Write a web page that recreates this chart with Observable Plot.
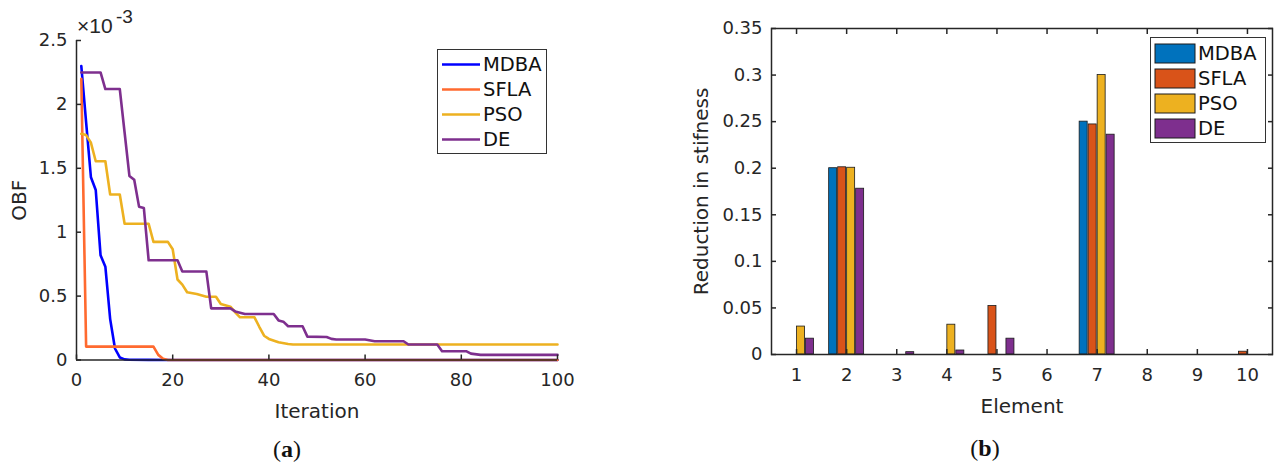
<!DOCTYPE html>
<html>
<head>
<meta charset="utf-8">
<script src="https://cdn.jsdelivr.net/npm/d3@7"></script>
<script src="https://cdn.jsdelivr.net/npm/@observablehq/plot@0.6"></script>
<style>
  body { margin: 0; background: #fff; }
  #root { position: relative; width: 1276px; height: 466px; overflow: hidden; background: #fff;
          font-family: "DejaVu Sans", sans-serif; color: #262626; }
  #root svg { position: absolute; top: 0; max-width: none; }
  .abs { position: absolute; white-space: nowrap; }
  .legend { position: absolute; background: #fff; border: 1.5px solid #333; box-sizing: border-box; }
  .legend .row { position: absolute; left: 0; height: 25px; line-height: 25px; font-size: 19.5px; color: #111; }
  .cap { position: absolute; font-family: "Liberation Serif", serif; font-size: 24px; line-height: 24px; color: #111; transform: translateX(-50%); }
</style>
</head>
<body>
<div id="root"></div>
<script>
// ---------- Panel (a): convergence curves (OBF in units of 1e-3) ----------
const seriesNames = ["MDBA", "SFLA", "PSO", "DE"];
const iterTicks = [0, 20, 40, 60, 80, 100];
const obfTicks = [0, 0.5, 1, 1.5, 2, 2.5];

const mdbaIter = [1, 2, 3, 4, 5, 6, 7, 8, 9, 10, 11, 15, 20, 100];
const mdbaObf  = [2.30, 1.86, 1.43, 1.33, 0.82, 0.73, 0.32, 0.09, 0.02, 0.005, 0.002, 0.001, 0, 0];

const sflaIter = [1, 2, 16, 17, 18, 19, 100];
const sflaObf  = [2.20, 0.105, 0.105, 0.04, 0.01, 0, 0];

const psoIter = [1, 2, 3, 4, 6, 7, 9, 10, 15, 16, 19, 20, 21, 22, 23, 25, 27, 29, 30, 32, 33, 34, 37, 38, 39, 40, 42, 44, 45, 100];
const psoObf  = [1.77, 1.76, 1.70, 1.555, 1.555, 1.295, 1.295, 1.066, 1.066, 0.924, 0.924, 0.866, 0.63, 0.59, 0.53, 0.516, 0.495, 0.495, 0.438, 0.417, 0.373, 0.334, 0.334, 0.26, 0.19, 0.165, 0.139, 0.125, 0.121, 0.121];

const deIter = [1, 5, 6, 9, 10, 11, 12, 13, 14, 15, 21, 22, 27, 28, 32, 33, 34, 35, 41, 42, 43, 44, 47, 48, 52, 53, 54, 60, 62, 68, 69, 75, 76, 81, 82, 84, 100];
const deObf  = [2.25, 2.25, 2.12, 2.12, 1.78, 1.44, 1.41, 1.20, 1.19, 0.78, 0.78, 0.692, 0.692, 0.404, 0.404, 0.38, 0.37, 0.36, 0.36, 0.31, 0.30, 0.264, 0.264, 0.183, 0.18, 0.165, 0.16, 0.16, 0.147, 0.147, 0.121, 0.121, 0.069, 0.069, 0.05, 0.04, 0.04];

// ---------- Panel (b): reduction in stiffness per element ----------
const elements = [1, 2, 3, 4, 5, 6, 7, 8, 9, 10];
const stiffTicks = [0, 0.05, 0.1, 0.15, 0.2, 0.25, 0.3, 0.35];
const mdbaRed = [0, 0.200, 0, 0, 0, 0, 0.250, 0, 0, 0];
const sflaRed = [0, 0.201, 0, 0, 0.052, 0, 0.247, 0, 0, 0.003];
const psoRed  = [0.030, 0.2005, 0, 0.032, 0, 0, 0.300, 0, 0, 0];
const deRed   = [0.017, 0.178, 0.0025, 0.0043, 0.017, 0, 0.236, 0, 0, 0];

// ---------- styles ----------
const lineColors = ["#0000FF", "#FF6A2F", "#EDB120", "#7E2F8E"];
const barColors  = ["#0072BD", "#D95319", "#EDB120", "#7E2F8E"];
const ink = "#262626";

// ---------- build tables ----------
const lineSets = [[mdbaIter, mdbaObf], [sflaIter, sflaObf], [psoIter, psoObf], [deIter, deObf]];
const lineRows = lineSets.flatMap(([it, v], j) => it.map((x, k) => ({series: seriesNames[j], iter: x, obf: v[k]})));
const barSets = [mdbaRed, sflaRed, psoRed, deRed];
const barRows = elements.flatMap((e, i) => seriesNames.map((s, j) => ({element: e, series: s, value: barSets[j][i]})));

const root = document.getElementById("root");
const baseStyle = {fontFamily: "DejaVu Sans, sans-serif", fontSize: "18px", color: ink, background: "transparent", overflow: "visible"};

// ---------- Panel (a) ----------
const plotA = Plot.plot({
  width: 620, height: 466,
  marginLeft: 76, marginRight: 63, marginTop: 40, marginBottom: 106.5,
  style: baseStyle,
  x: {domain: [0, 100]},
  y: {domain: [0, 2.5]},
  color: {domain: seriesNames, range: lineColors},
  marks: [
    Plot.line(lineRows, {x: "iter", y: "obf", z: "series", stroke: "series", strokeWidth: 2.6}),
    Plot.ruleX([0], {stroke: ink, strokeWidth: 1.5}),
    Plot.ruleY([0], {stroke: ink, strokeWidth: 1.5}),
    Plot.axisX({ticks: iterTicks, tickSize: 5, dy: -5, fill: "none", stroke: ink, strokeWidth: 1.5}),
    Plot.axisX({ticks: iterTicks, tickSize: 0, tickPadding: 13.5, label: null, fill: ink, tickFormat: d => `${d}`}),
    Plot.axisY({ticks: obfTicks, tickSize: 5, dx: 5, fill: "none", stroke: ink, strokeWidth: 1.5}),
    Plot.axisY({ticks: obfTicks, tickSize: 0, tickPadding: 9, label: null, fill: ink, tickFormat: d => `${d}`}),
    Plot.text(["Iteration"], {frameAnchor: "bottom", textAnchor: "middle", lineAnchor: "bottom", dy: 58, fontSize: 20, fill: ink}),
    Plot.text(["OBF"], {frameAnchor: "left", textAnchor: "middle", lineAnchor: "bottom", rotate: -90, dx: -51, fontSize: 20, fill: ink})
  ]
});
plotA.style.left = "0px";
root.appendChild(plotA);

// ---------- Panel (b): bars (faceted by element) ----------
const bMargins = {marginLeft: 131, marginRight: 4, marginTop: 28, marginBottom: 112};
const plotBars = Plot.plot({
  width: 636, height: 466, ...bMargins,
  style: baseStyle,
  fx: {domain: elements, padding: 0, round: false, axis: null, label: null},
  x: {domain: seriesNames, paddingInner: 0.11, paddingOuter: 0.84, round: false, axis: null},
  y: {domain: [0, 0.35], axis: null},
  color: {domain: seriesNames, range: barColors},
  marks: [
    Plot.barY(barRows, {fx: "element", x: "series", y: "value", fill: "series", stroke: "#1a1a1a", strokeWidth: 0.8})
  ]
});
plotBars.style.left = "640px";
root.appendChild(plotBars);

// ---------- Panel (b): box, ticks, labels ----------
const plotB = Plot.plot({
  width: 636, height: 466, ...bMargins,
  style: baseStyle,
  x: {domain: [0.5, 10.5]},
  y: {domain: [0, 0.35]},
  marks: [
    Plot.frame({stroke: ink, strokeWidth: 1.5}),
    Plot.axisX({ticks: elements, tickSize: 5, dy: -5, fill: "none", stroke: ink, strokeWidth: 1.5}),
    Plot.axisX({anchor: "top", ticks: elements, tickSize: 5, dy: 5, fill: "none", stroke: ink, strokeWidth: 1.5}),
    Plot.axisX({ticks: elements, tickSize: 0, tickPadding: 14, label: null, fill: ink, tickFormat: d => `${d}`}),
    Plot.axisY({ticks: stiffTicks, tickSize: 5, dx: 5, fill: "none", stroke: ink, strokeWidth: 1.5}),
    Plot.axisY({anchor: "right", ticks: stiffTicks, tickSize: 5, dx: -5, fill: "none", stroke: ink, strokeWidth: 1.5}),
    Plot.axisY({ticks: stiffTicks, tickSize: 0, tickPadding: 9, label: null, fill: ink, tickFormat: d => `${d}`}),
    Plot.text(["Element"], {frameAnchor: "bottom", textAnchor: "middle", lineAnchor: "bottom", dy: 58, fontSize: 20, fill: ink}),
    Plot.text(["Reduction in stifness"], {frameAnchor: "left", textAnchor: "middle", lineAnchor: "bottom", rotate: -90, dx: -64, fontSize: 20, fill: ink})
  ]
});
plotB.style.left = "640px";
root.appendChild(plotB);

// ---------- HTML extras: exponent, legends, captions ----------
function addDiv(html, cls, css) {
  const d = document.createElement("div");
  d.className = cls;
  d.innerHTML = html;
  Object.assign(d.style, css);
  root.appendChild(d);
  return d;
}
addDiv("×10", "abs", {left: "77px", top: "15px", fontSize: "21px", lineHeight: "21px", fontFamily: "Liberation Sans, sans-serif"});
addDiv("-3", "abs", {left: "116px", top: "7px", fontSize: "19px", lineHeight: "19px", fontFamily: "Liberation Sans, sans-serif"});

// legend (a)
const legA = addDiv("", "legend", {left: "437px", top: "49px", width: "110px", height: "105px"});
seriesNames.forEach((s, j) => {
  const r = document.createElement("div");
  r.className = "row";
  r.style.top = (1.5 + j * 25.3) + "px";
  r.innerHTML = `<svg width="44" height="25" style="position:static;vertical-align:top"><line x1="4" x2="42" y1="12.5" y2="12.5" stroke="${lineColors[j]}" stroke-width="2.6"/></svg><span style="position:absolute;left:45px;top:0">${s}</span>`;
  legA.appendChild(r);
});

// legend (b)
const legB = addDiv("", "legend", {left: "1150px", top: "37px", width: "116px", height: "106px"});
seriesNames.forEach((s, j) => {
  const r = document.createElement("div");
  r.className = "row";
  r.style.top = (2.5 + j * 25.3) + "px";
  r.innerHTML = `<svg width="46" height="25" style="position:static;vertical-align:top"><rect x="4" y="3" width="40" height="19" fill="${barColors[j]}" stroke="#1a1a1a" stroke-width="1"/></svg><span style="position:absolute;left:47px;top:0">${s}</span>`;
  legB.appendChild(r);
});

addDiv("(<b>a</b>)", "cap", {left: "287px", top: "437px"});
addDiv("(<b>b</b>)", "cap", {left: "985px", top: "436px"});
</script>
</body>
</html>
